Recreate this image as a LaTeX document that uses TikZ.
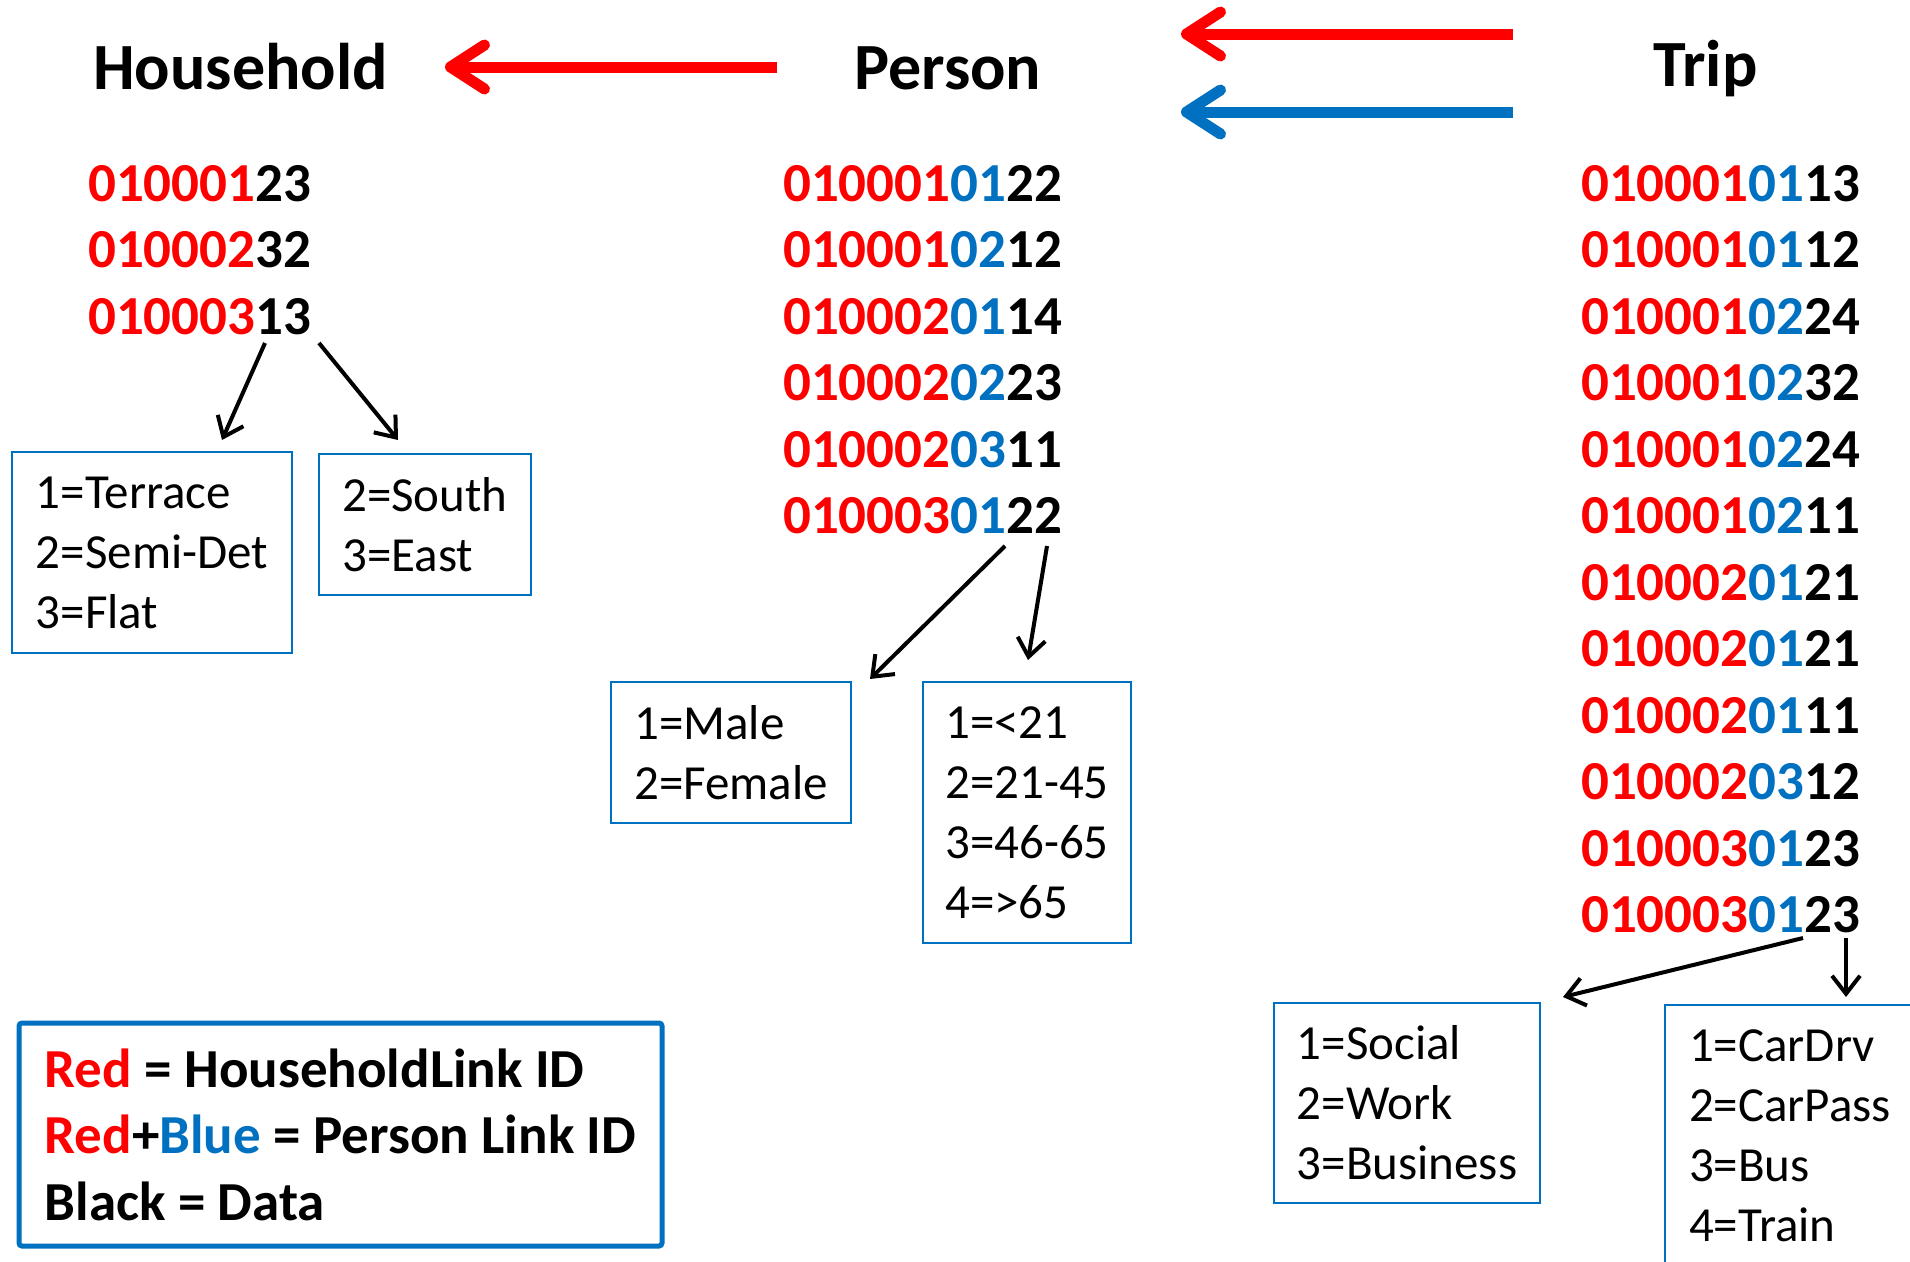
\documentclass[tikz,border=0pt]{standalone}
\usepackage{fontspec}
\setmainfont{Carlito}
\usetikzlibrary{arrows.meta,calc}
\definecolor{idred}{RGB}{255,0,0}
\definecolor{idblue}{RGB}{0,112,192}
\newcommand\hidtxt[2]{\textcolor{idred}{#1}#2}
\newcommand\pidtxt[3]{\textcolor{idred}{#1}\textcolor{idblue}{#2}#3}
\begin{document}
\begin{tikzpicture}[x=1pt,y=-1pt,
  title/.style={anchor=base west, inner sep=0pt, font=\fontsize{66}{79}\selectfont\bfseries},
  idrow/.style={anchor=base west, inner sep=0pt, font=\fontsize{55}{66}\selectfont\bfseries},
  codebox/.style={draw=idblue, line width=2pt, align=left, inner sep=0pt, font=\fontsize{49}{60}\selectfont},
  legendbox/.style={draw=idblue, line width=5pt, rounded corners=3pt, align=left, inner sep=0pt, font=\fontsize{55}{66.5}\selectfont\bfseries},
  bigred/.style={draw=idred, line width=11pt, line cap=butt, -{Straight Barb[length=34pt,width=44pt,round]}},
  bigblue/.style={draw=idblue, line width=11pt, line cap=butt, -{Straight Barb[length=34pt,width=44pt,round]}},
  pointer/.style={draw=black, line width=4pt, -{Straight Barb[length=18pt,width=28pt]}},
]
\path[use as bounding box, fill=white] (0,0) rectangle (1910,1261);
\clip (0,0) rectangle (1910,1261);

% titles
\node[title] (household) at (93,89) {Household};
\node[title] (person) at (854,89) {Person};
\node[title] (trip) at (1653,86) {Trip};

% household ids
\node[idrow] (h1) at (88,201) {\hidtxt{010001}{23}};
\node[idrow] (h2) at (88,267.5) {\hidtxt{010002}{32}};
\node[idrow] (h3) at (88,334) {\hidtxt{010003}{13}};

% person ids
\node[idrow] (p1) at (783,201) {\pidtxt{010001}{01}{22}};
\node[idrow] (p2) at (783,267.5) {\pidtxt{010001}{02}{12}};
\node[idrow] (p3) at (783,334) {\pidtxt{010002}{01}{14}};
\node[idrow] (p4) at (783,400.5) {\pidtxt{010002}{02}{23}};
\node[idrow] (p5) at (783,467) {\pidtxt{010002}{03}{11}};
\node[idrow] (p6) at (783,533.5) {\pidtxt{010003}{01}{22}};

% trip ids
\node[idrow] (t1) at (1581,201) {\pidtxt{010001}{01}{13}};
\node[idrow] (t2) at (1581,267.5) {\pidtxt{010001}{01}{12}};
\node[idrow] (t3) at (1581,334) {\pidtxt{010001}{02}{24}};
\node[idrow] (t4) at (1581,400.5) {\pidtxt{010001}{02}{32}};
\node[idrow] (t5) at (1581,467) {\pidtxt{010001}{02}{24}};
\node[idrow] (t6) at (1581,533.5) {\pidtxt{010001}{02}{11}};
\node[idrow] (t7) at (1581,600) {\pidtxt{010002}{01}{21}};
\node[idrow] (t8) at (1581,666.5) {\pidtxt{010002}{01}{21}};
\node[idrow] (t9) at (1581,733) {\pidtxt{010002}{01}{11}};
\node[idrow] (t10) at (1581,799.5) {\pidtxt{010002}{03}{12}};
\node[idrow] (t11) at (1581,866) {\pidtxt{010003}{01}{23}};
\node[idrow] (t12) at (1581,932.5) {\pidtxt{010003}{01}{23}};

% code boxes
\node[codebox, minimum width=280pt, minimum height=201pt] (hb1) at (152,552.5) {1=Terrace\\2=Semi-Det\\3=Flat};
\node[codebox, minimum width=212pt, minimum height=141pt] (hb2) at (425,524.5) {2=South\\3=East};
\node[codebox, minimum width=240pt, minimum height=141pt] (pb1) at (731,752.5) {1=Male\\2=Female};
\node[codebox, minimum width=208pt, minimum height=261pt] (pb2) at (1027,812.5) {1=<21\\2=21-45\\3=46-65\\4=>65};
\node[codebox, minimum width=266pt, minimum height=200pt] (tb1) at (1407,1103) {1=Social\\2=Work\\3=Business};
\node[codebox, minimum width=250pt, minimum height=262pt] (tb2) at (1790,1136) {1=CarDrv\\2=CarPass\\3=Bus\\4=Train};

% legend
\node[legendbox, minimum width=643pt, minimum height=223pt] (legend) at (340.5,1134.5)
  {\textcolor{idred}{Red} = HouseholdLink ID\\\textcolor{idred}{Red}+\textcolor{idblue}{Blue} = Person Link ID\\Black = Data};

% link arrows
\draw[bigred] ($(person.base west)+(-77,-22)$) -- ($(household.base west)+(352,-22)$);
\draw[bigred] ($(trip.base west)+(-140,-52)$) -- ($(person.base west)+(327,-55)$);
\draw[bigblue] ($(trip.base west)+(-140,26)$) -- ($(person.base west)+(327,23)$);

% pointers
\draw[pointer] ($(h3.base west)+(177,9)$) -- ($(hb1.north)+(70,-11)$);
\draw[pointer] ($(h3.base west)+(231,9)$) -- ($(hb2.north)+(-27,-13)$);
\draw[pointer] ($(p6.base west)+(222,12.5)$) -- ($(pb1.north east)+(18,-2)$);
\draw[pointer] ($(p6.base west)+(264,12.5)$) -- ($(pb2.north)+(1,-21)$);
\draw[pointer] ($(t12.base west)+(222,5.5)$) -- ($(tb1.north east)+(22,-5)$);
\draw[pointer] ($(t12.base west)+(265,5.5)$) -- ($(tb2.north)+(56,-7)$);
\end{tikzpicture}
\end{document}
